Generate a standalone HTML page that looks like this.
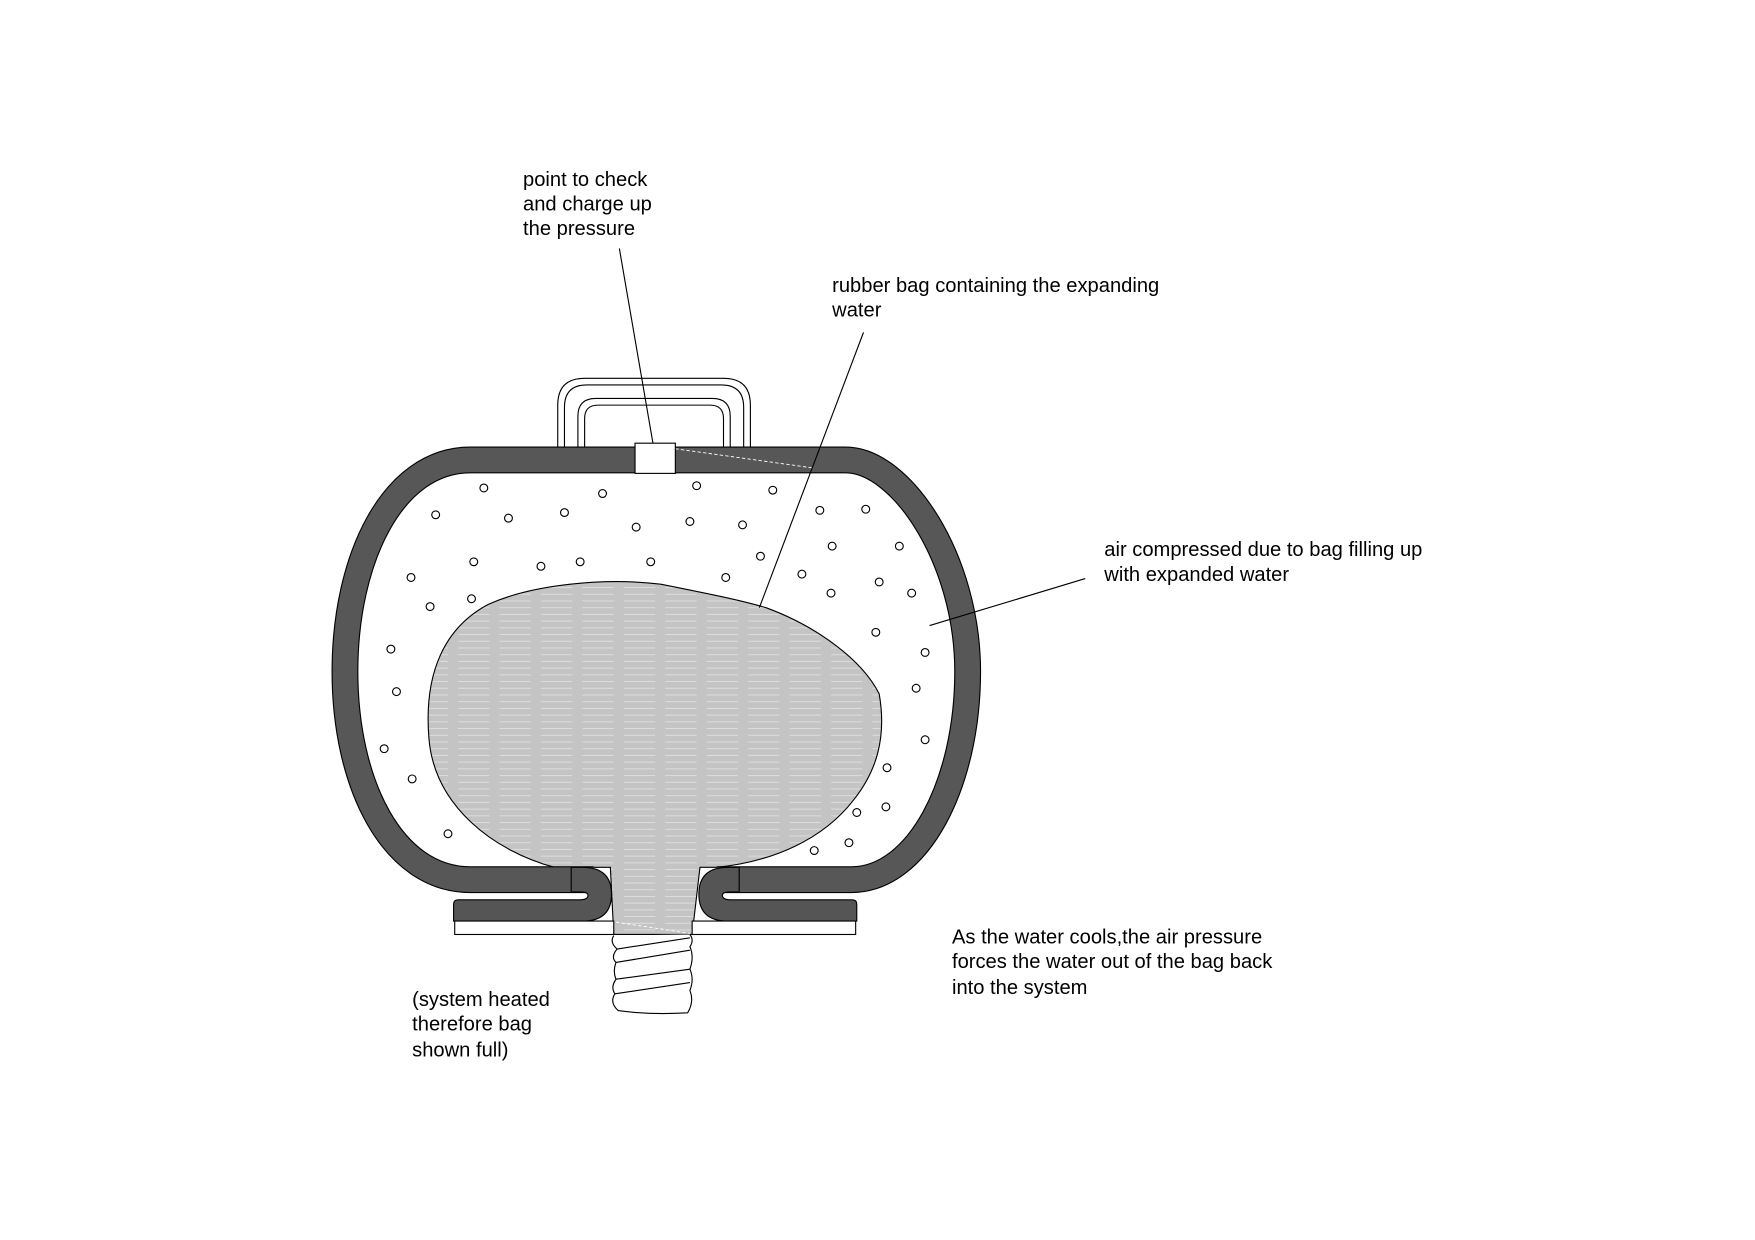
<!DOCTYPE html>
<html><head><meta charset="utf-8"><style>
html,body{margin:0;padding:0;background:#fff;}
svg{display:block;}
text{font-family:"Liberation Sans",sans-serif;font-size:18px;fill:#000;}
</style></head><body>
<svg width="1755" height="1240" viewBox="0 0 1567 1108" preserveAspectRatio="none" xmlns="http://www.w3.org/2000/svg">
<defs>
<pattern id="water" width="37" height="6" patternUnits="userSpaceOnUse">
<rect width="37" height="6" fill="#c4c4c4"/>
<line x1="2" y1="3" x2="30" y2="3" stroke="#dedede" stroke-width="0.8"/>
</pattern>
</defs>

<path d="M498,400 L498,362 Q498,338 522,338 L646,338 Q670,338 670,362 L670,400" fill="none" stroke="#000" stroke-width="1"/>
<path d="M504,400 L504,364 Q504,344 524,344 L644,344 Q664,344 664,364 L664,400" fill="none" stroke="#000" stroke-width="1"/>
<path d="M516,400 L516,372 Q516,356 532,356 L636,356 Q652,356 652,372 L652,400" fill="none" stroke="#000" stroke-width="1"/>
<path d="M522,400 L522,374 Q522,362 534,362 L634,362 Q646,362 646,374 L646,400" fill="none" stroke="#000" stroke-width="1"/>

<path d="M495,775 C440,760 388,720 383,660 C378,600 398,560 436,540 C476,522 540,516 590,522 C630,530 660,536 684,543 C730,560 770,590 785,620 C792,660 782,690 762,715 C735,750 690,770 640,775 L625,775 L618,835 L548,835 L545,775 Z" fill="url(#water)" stroke="#000" stroke-width="1"/>

<path d="M530,786 L420,786 C350,786 308,700 308,600 C308,500 350,411 420,411 L755,411 C805,411 864,500 864,600 C864,700 820,786 760,786 L640,786" fill="none" stroke="#000" stroke-width="24"/>
<path d="M530,786 L420,786 C350,786 308,700 308,600 C308,500 350,411 420,411 L755,411 C805,411 864,500 864,600 C864,700 820,786 760,786 L640,786" fill="none" stroke="#575757" stroke-width="22"/>
<line x1="603" y1="401" x2="725" y2="418" stroke="#fff" stroke-width="0.8" stroke-dasharray="3 2"/>

<path d="M520,775 Q546,775 546,799 Q546,823 520,823 L405,823 L405,808 Q405,804 409,804 L518,804 Q525,804 525,800 Q525,797 518,797 L510,797 L510,775 Z" fill="#555" stroke="#000" stroke-width="1"/>
<path d="M650,775 Q624,775 624,799 Q624,823 650,823 L765,823 L765,808 Q765,804 761,804 L652,804 Q645,804 645,800 Q645,797 652,797 L660,797 L660,775 Z" fill="#555" stroke="#000" stroke-width="1"/>
<rect x="406" y="823" width="142" height="12" fill="#fff" stroke="#000" stroke-width="1"/>
<rect x="618" y="823" width="146" height="12" fill="#fff" stroke="#000" stroke-width="1"/>
<line x1="550" y1="824" x2="616" y2="834" stroke="#fff" stroke-width="0.8" stroke-dasharray="3 2"/>

<path d="M548,836 Q544,842 551,848 Q545,855 550,860 Q547,868 550,875 Q545,882 549,888 Q544,896 552,903 Q580,907 614,905 Q620,895 616,885 Q620,875 616,866 Q620,855 616,846 Q620,840 616,835" fill="#fff" stroke="#000" stroke-width="1"/>
<path d="M551,848 L616,838 M550,860 L616,849 M550,875 L616,866 M549,888 L616,878" fill="none" stroke="#000" stroke-width="1"/>

<rect x="567" y="396" width="36" height="27" fill="#fff" stroke="#000" stroke-width="1"/>

<g fill="#fff" stroke="#000" stroke-width="1">
<circle cx="432" cy="436" r="3.5"/><circle cx="389" cy="460" r="3.5"/><circle cx="454" cy="463" r="3.5"/><circle cx="504" cy="458" r="3.5"/><circle cx="538" cy="441" r="3.5"/><circle cx="568" cy="471" r="3.5"/><circle cx="616" cy="466" r="3.5"/><circle cx="622" cy="434" r="3.5"/><circle cx="663" cy="469" r="3.5"/><circle cx="690" cy="438" r="3.5"/><circle cx="732" cy="456" r="3.5"/><circle cx="773" cy="455" r="3.5"/><circle cx="743" cy="488" r="3.5"/><circle cx="803" cy="488" r="3.5"/><circle cx="679" cy="497" r="3.5"/><circle cx="716" cy="513" r="3.5"/><circle cx="742" cy="530" r="3.5"/><circle cx="785" cy="520" r="3.5"/><circle cx="814" cy="530" r="3.5"/><circle cx="648" cy="516" r="3.5"/><circle cx="581" cy="502" r="3.5"/><circle cx="518" cy="502" r="3.5"/><circle cx="483" cy="506" r="3.5"/><circle cx="423" cy="502" r="3.5"/><circle cx="367" cy="516" r="3.5"/><circle cx="384" cy="542" r="3.5"/><circle cx="421" cy="535" r="3.5"/><circle cx="349" cy="580" r="3.5"/><circle cx="354" cy="618" r="3.5"/><circle cx="343" cy="669" r="3.5"/><circle cx="368" cy="696" r="3.5"/><circle cx="400" cy="745" r="3.5"/><circle cx="782" cy="565" r="3.5"/><circle cx="826" cy="583" r="3.5"/><circle cx="818" cy="615" r="3.5"/><circle cx="826" cy="661" r="3.5"/><circle cx="792" cy="686" r="3.5"/><circle cx="791" cy="721" r="3.5"/><circle cx="765" cy="726" r="3.5"/><circle cx="758" cy="753" r="3.5"/><circle cx="727" cy="760" r="3.5"/>
</g>

<g stroke="#000" stroke-width="1">
<line x1="553" y1="222" x2="583" y2="396"/>
<line x1="771" y1="297" x2="678" y2="543"/>
<line x1="969" y1="517" x2="830" y2="559"/>
</g>

<text x="467" y="166">point to check</text>
<text x="467" y="188">and charge up</text>
<text x="467" y="210">the pressure</text>
<text x="743" y="261">rubber bag containing the expanding</text>
<text x="743" y="283">water</text>
<text x="986" y="497">air compressed due to bag filling up</text>
<text x="986" y="519">with expanded water</text>
<text x="850" y="843">As the water cools,the air pressure</text>
<text x="850" y="865">forces the water out of the bag back</text>
<text x="850" y="888">into the system</text>
<text x="368" y="899">(system heated</text>
<text x="368" y="921">therefore bag</text>
<text x="368" y="944">shown full)</text>
</svg>
</body></html>
